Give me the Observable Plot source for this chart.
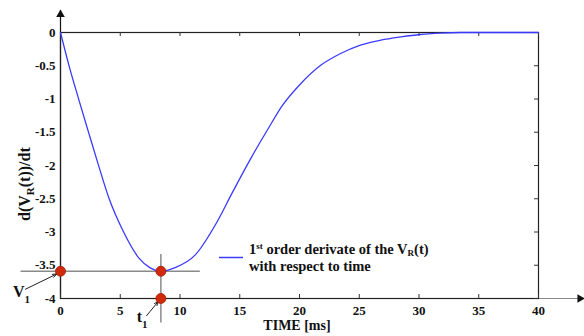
<!DOCTYPE html>
<html>
<head>
<meta charset="utf-8">
<script src="https://cdn.jsdelivr.net/npm/d3@7"></script>
<script src="https://cdn.jsdelivr.net/npm/@observablehq/plot@0.6"></script>
<style>
  body { margin: 0; background: #fff; }
  #chart svg { display: block; }
  #chart svg text { font-family: 'Liberation Serif', 'Times New Roman', serif; font-weight: bold; }
</style>
</head>
<body>
<div id="chart"></div>
<script>
// Time axis [ms] and the first derivative of V_R(t)
const time = [0, 0.7, 1.5, 2.33, 3.17, 4.05, 5.25, 6.55, 7.5, 8.4, 9.6, 11.3, 13.0, 14.4, 16.0, 17.4, 18.6, 20.1, 21.8, 23.4, 25.1, 26.8, 28.5, 30.1, 31.8, 33.5, 36, 40];
const dVR  = [0, -0.49, -0.99, -1.49, -1.99, -2.49, -2.99, -3.39, -3.54, -3.59, -3.535, -3.34, -2.88, -2.40, -1.87, -1.44, -1.09, -0.77, -0.49, -0.32, -0.19, -0.115, -0.066, -0.03, -0.01, 0, 0, 0];

// Tick values
const xTicks = [0, 5, 10, 15, 20, 25, 30, 35, 40];
const yTicks = [0, -0.5, -1, -1.5, -2, -2.5, -3, -3.5, -4];

// Minimum of the derivative: time t1 and value V1
const t1 = 8.4;
const V1 = -3.59;

// Extents of the cross-hair guides through the minimum
const guideHx = [-3.3, 11.7];
const guideVy = [-3.34, -4.37];

// Highlighted points
const markerX = [0, t1, t1];
const markerY = [V1, V1, -4];

// Axis lines reaching past the box, ending in arrow heads
const yAxisTop = 0.33;
const xAxisEnd = 43.8;

// Callout arrows pointing at V1 and t1
const calloutX1 = [-2.93, 7.2], calloutY1 = [-3.86, -4.26];
const calloutX2 = [-0.3, 8.2], calloutY2 = [-3.63, -4.04];

// Callout labels: letter + subscript
const calloutBase = ["V", "t"];
const calloutSub = ["1", "1"];
const calloutX = [-3.93, 6.42];
const calloutY = [-3.98, -4.36];

const curve = time.map((t, i) => ({t, v: dVR[i]}));
const markers = markerX.map((x, i) => ({x, y: markerY[i]}));
const callouts = calloutX1.map((x1, i) => ({x1, y1: calloutY1[i], x2: calloutX2[i], y2: calloutY2[i]}));

const serif = "Liberation Serif";
const tickFont = {fontFamily: serif, fontWeight: "bold", fontSize: 13, fill: "#111"};

const plot = Plot.plot({
  width: 584,
  height: 336,
  marginLeft: 60,
  marginRight: 46,
  marginTop: 32,
  marginBottom: 38,
  x: {domain: [0, 40], axis: null},
  y: {domain: [-4, 0], axis: null},
  style: {background: "#fff", overflow: "visible", color: "#111"},
  marks: [
    // axis extensions with arrow heads
    Plot.ruleY([-4], {y: d => d, x1: 40, x2: xAxisEnd, stroke: "#8a8a8a", strokeWidth: 1.2}),
    Plot.ruleX([0], {x: d => d, y1: -4, y2: yAxisTop, stroke: "#111", strokeWidth: 1.2}),
    Plot.dot([0], {x: d => d, y: yAxisTop, symbol: "triangle", r: 3.2, fill: "#111", dy: 4}),
    Plot.dot([-4], {x: xAxisEnd, y: d => d, symbol: "triangle", r: 3.2, fill: "#111", rotate: 90, dx: -4}),
    Plot.frame({stroke: "#222", strokeWidth: 1.2}),
    // inward ticks on all four sides
    Plot.ruleX(xTicks, {x: d => d, insetTop: 262, stroke: "#333"}),
    Plot.ruleX(xTicks, {x: d => d, insetBottom: 262, stroke: "#333"}),
    Plot.ruleY(yTicks, {y: d => d, insetLeft: 474, stroke: "#333"}),
    // tick labels
    Plot.text(xTicks, {x: d => d, y: -4, dy: 12, text: d => String(d), ...tickFont}),
    Plot.text(yTicks, {x: 0, y: d => d, dx: -5, textAnchor: "end", text: d => String(d), ...tickFont}),
    // cross-hair guides through the minimum
    Plot.ruleY([V1], {y: d => d, x1: guideHx[0], x2: guideHx[1], stroke: "#8a8a8a", strokeWidth: 1.5}),
    Plot.ruleX([t1], {x: d => d, y1: guideVy[0], y2: guideVy[1], stroke: "#8a8a8a", strokeWidth: 1.5}),
    // the derivative curve
    Plot.line(curve, {x: "t", y: "v", stroke: "#3b3bff", strokeWidth: 1.3, curve: "monotone-x"}),
    // callout arrows
    Plot.arrow(callouts, {x1: "x1", y1: "y1", x2: "x2", y2: "y2", stroke: "#222", strokeWidth: 1, headLength: 7, headAngle: 40}),
    // highlighted points
    Plot.dot(markers, {x: "x", y: "y", r: 5, fill: "#d02a0a", stroke: "#9a1c05", strokeWidth: 0.8})
  ]
});

document.getElementById("chart").appendChild(plot);

const svg = d3.select(plot);
const sx = plot.scale("x"), sy = plot.scale("y");

// y-axis title with subscript, reading bottom to top
const yTitle = svg.append("text")
  .attr("text-anchor", "start")
  .attr("transform", "translate(30,221) rotate(-90)")
  .attr("font-size", 16).attr("fill", "#111");
yTitle.append("tspan").text("d(V");
yTitle.append("tspan").attr("font-size", 11).attr("dy", 4).text("R");
yTitle.append("tspan").attr("dy", -4).text("(t))/dt");

// x-axis title
svg.append("text")
  .attr("x", 297).attr("y", 330)
  .attr("text-anchor", "middle")
  .attr("font-size", 14).attr("fill", "#111")
  .text("TIME [ms]");

// callout labels
calloutBase.forEach((b, i) => {
  const t = svg.append("text")
    .attr("x", sx.apply(calloutX[i])).attr("y", sy.apply(calloutY[i]))
    .attr("text-anchor", "start")
    .attr("font-size", 16).attr("fill", "#111");
  t.append("tspan").text(b);
  t.append("tspan").attr("font-size", 11).attr("dy", 6).text(calloutSub[i]);
});

// legend
const lg = svg.append("g").attr("font-size", 14.5).attr("fill", "#111").attr("text-anchor", "start");
lg.append("line").attr("x1", 219).attr("x2", 243).attr("y1", 257.5).attr("y2", 257.5)
  .attr("stroke", "#3b3bff").attr("stroke-width", 1.5);
const l1 = lg.append("text").attr("x", 249).attr("y", 254);
l1.append("tspan").text("1");
l1.append("tspan").attr("font-size", 9).attr("dy", -5).text("st");
l1.append("tspan").attr("dy", 5).text(" order derivate of the V");
l1.append("tspan").attr("font-size", 9).attr("dy", 2).text("R");
l1.append("tspan").attr("dy", -2).text("(t)");
lg.append("text").attr("x", 249).attr("y", 271).text("with respect to time");
</script>
</body>
</html>
